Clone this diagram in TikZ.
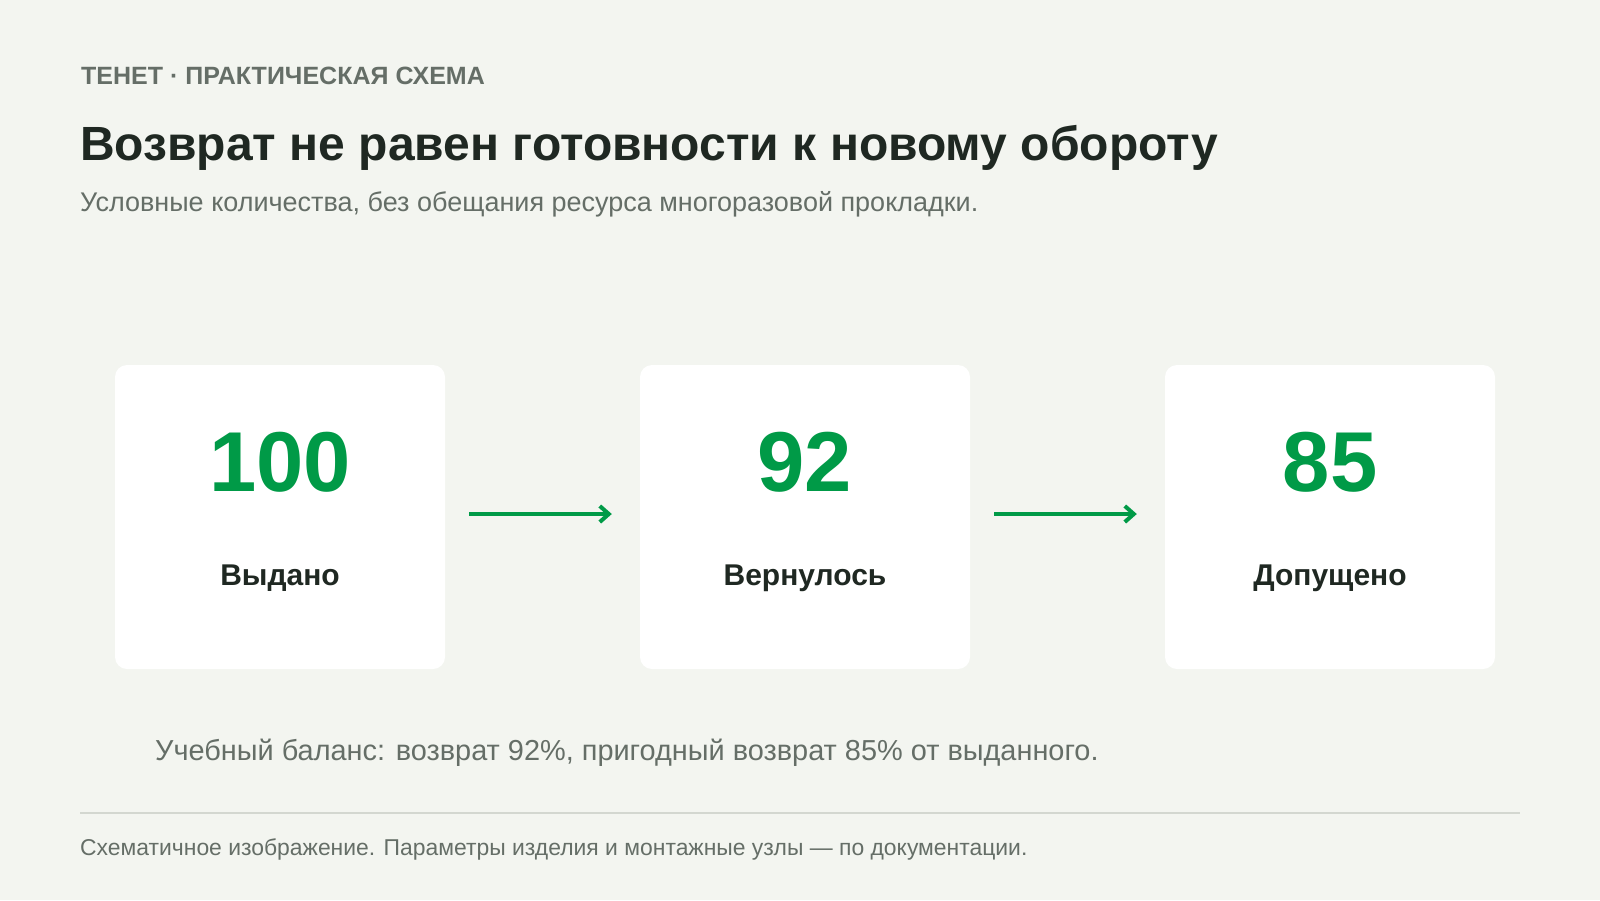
\documentclass[tikz,border=0pt]{standalone}
\usepackage{fontspec}
\setmainfont{Liberation Sans}
\usetikzlibrary{arrows.meta,positioning}
\definecolor{bgpaper}{HTML}{F3F5F0}
\definecolor{leafgreen}{HTML}{009A47}
\definecolor{inkdark}{HTML}{1F2822}
\definecolor{greytext}{HTML}{656E67}
\definecolor{rulegrey}{HTML}{D3D7D0}
\newcommand{\fs}[1]{\fontsize{#1}{#1}\selectfont}
\tikzset{
  txt/.style={inner sep=0pt,anchor=base west},
  card/.style={fill=white,rounded corners=12pt,minimum width=330pt,minimum height=304pt,inner sep=0pt},
  num/.style={inner sep=0pt,anchor=base,text=leafgreen,font=\fs{85}\bfseries},
  lbl/.style={inner sep=0pt,anchor=base,text=inkdark,font=\fs{30}\bfseries},
  flow/.style={-{Straight Barb[length=9pt,width=16pt,line width=4pt]},line width=4pt,leafgreen,shorten <=24pt,shorten >=28pt}
}
\begin{document}
\begin{tikzpicture}[x=1pt,y=-1pt]
% \draw[help lines,step=100] (0,0) grid (1600,900);
\useasboundingbox (0,0) rectangle (1600,900);
\fill[bgpaper] (0,0) rectangle (1600,900);
%
\node (hd) [txt,text=greytext,font=\fs{25}\bfseries] at (81,84) {ТЕНЕТ · ПРАКТИЧЕСКАЯ СХЕМА};
\node (tt) [txt,text=inkdark,font=\fs{48}\bfseries] at (80,160) {Возврат не равен готовности к новому обороту};
\node (st) [txt,text=greytext,font=\fs{27}] at (80,211) {Условные количества, без обещания ресурса многоразовой прокладки.};
%
\node (b1) [card] at (280,517) {};
\node (b2) [card] at (805,517) {};
\node (b3) [card] at (1330,517) {};
%
\node (n1) [num] at (280,491) {100};
\node (n2) [num] at (805,491) {92};
\node (n3) [num] at (1330,491) {85};
\node (l1) [lbl] at (280,585) {Выдано};
\node (l2) [lbl] at (805,585) {Вернулось};
\node (l3) [lbl] at (1330,585) {Допущено};
%
\path[flow] (b1.east |- 0,514) edge (b2.west |- 0,514);
\path[flow] (b2.east |- 0,514) edge (b3.west |- 0,514);
%
\node (bl) [txt,text=greytext,font=\fs{28.9}] at (155,760) {Учебный баланс: возврат 92\%, пригодный возврат 85\% от выданного.};
\coordinate (r1) at (80,813);
\coordinate (r2) at (1520,813);
\draw[rulegrey,line width=2pt] (r1) -- (r2);
\node (ft) [txt,text=greytext,font=\fs{22.9}] at (80,855) {Схематичное изображение. Параметры изделия и монтажные узлы — по документации.};
\end{tikzpicture}
\end{document}
